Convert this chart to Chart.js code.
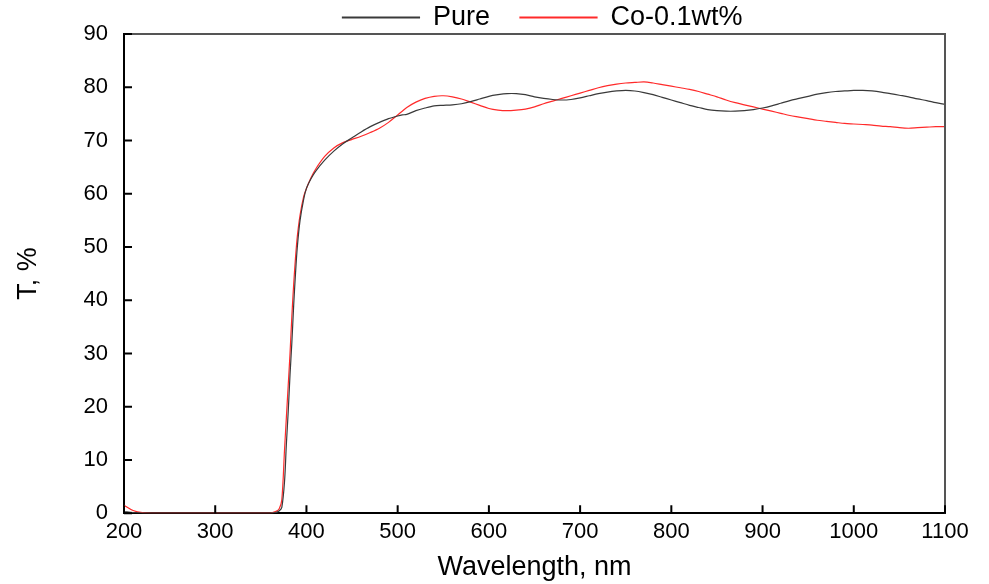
<!DOCTYPE html>
<html>
<head>
<meta charset="utf-8">
<script src="https://cdn.jsdelivr.net/npm/chart.js@4.4.0/dist/chart.umd.min.js"></script>
<style>
  html, body { margin: 0; padding: 0; background: #fff; }
  #wrap { width: 989px; height: 584px; }
</style>
</head>
<body>
<div id="wrap"><canvas id="myChart"></canvas></div>
<script>
// wavelength, nm
var wavelength = [200, 210, 220, 240, 260, 280, 300, 320, 340, 360, 366, 370, 373, 376, 378, 380, 382, 384, 386, 388, 390, 393, 397, 400, 405, 410, 420, 430, 440, 450, 460, 470, 480, 490, 500, 505, 510, 520, 530, 540, 550, 560, 570, 580, 590, 600, 610, 620, 630, 640, 650, 660, 670, 680, 690, 700, 710, 720, 730, 740, 750, 760, 770, 780, 790, 800, 810, 820, 830, 840, 850, 860, 870, 880, 890, 900, 910, 920, 930, 940, 950, 960, 970, 980, 990, 1000, 1010, 1020, 1030, 1040, 1050, 1060, 1070, 1080, 1090, 1100];

// transmittance T, %
var pure = [0.3, 0.1, 0, 0, 0, 0, 0, 0, 0, 0, 0.1, 0.4, 1.1, 6, 13, 19, 26, 32, 39, 45, 50, 55, 59, 61, 62.8, 64.2, 66.3, 68, 69.4, 70.5, 71.6, 72.6, 73.4, 74.1, 74.6, 74.8, 74.9, 75.6, 76.1, 76.5, 76.6, 76.7, 76.9, 77.3, 77.8, 78.3, 78.6, 78.8, 78.8, 78.6, 78.2, 77.9, 77.7, 77.6, 77.7, 78, 78.4, 78.8, 79.1, 79.3, 79.4, 79.3, 79, 78.6, 78.1, 77.6, 77.1, 76.6, 76.2, 75.8, 75.6, 75.5, 75.5, 75.6, 75.8, 76.1, 76.5, 77, 77.5, 77.9, 78.3, 78.7, 79, 79.2, 79.3, 79.4, 79.4, 79.3, 79.1, 78.8, 78.5, 78.2, 77.8, 77.5, 77.1, 76.8];
var cobalt = [1.5, 0.5, 0.1, 0, 0, 0, 0, 0, 0, 0, 0.3, 0.8, 2.5, 12, 18, 24, 30, 37, 43, 48, 52, 56, 59.5, 61, 63, 64.6, 67, 68.6, 69.6, 70.2, 70.8, 71.5, 72.3, 73.4, 74.8, 75.5, 76.2, 77.2, 77.9, 78.3, 78.4, 78.2, 77.8, 77.2, 76.6, 76, 75.7, 75.6, 75.7, 75.9, 76.3, 76.9, 77.4, 77.9, 78.4, 78.9, 79.4, 79.9, 80.3, 80.6, 80.8, 80.9, 81, 80.8, 80.5, 80.2, 79.9, 79.6, 79.2, 78.7, 78.2, 77.6, 77.1, 76.7, 76.3, 75.9, 75.5, 75.1, 74.7, 74.4, 74.1, 73.8, 73.6, 73.4, 73.2, 73.1, 73, 72.9, 72.7, 72.6, 72.4, 72.3, 72.4, 72.5, 72.6, 72.6];

var xTicks = [200, 300, 400, 500, 600, 700, 800, 900, 1000, 1100];
var yTicks = [0, 10, 20, 30, 40, 50, 60, 70, 80, 90];

var FONT = "'Liberation Sans', Arial, sans-serif";

function toPoints(ys) {
    return wavelength.map(function (x, i) { return { x: x, y: ys[i] }; });
}

// keep the legend row short so the plot starts right under it,
// and centre it over the plot rather than the whole canvas
var legendFix = {
    id: 'legendFix',
    beforeLayout: function (chart) {
        var lg = chart.legend;
        if (lg && !lg._patched) {
            var fit = lg.fit;
            lg.fit = function () {
                fit.call(this);
                this.height = 60;
            };
            lg._patched = true;
        }
    },
    afterLayout: function (chart) {
        var lg = chart.legend;
        if (lg) {
            lg.left += 68;
            lg.right += 68;
        }
    }
};

// frame (grey top/right) and inward tick marks
var frame = {
    id: 'frame',
    afterDraw: function (chart) {
        var ctx = chart.ctx, a = chart.chartArea;
        var sx = chart.scales.x, sy = chart.scales.y;
        ctx.save();
        ctx.strokeStyle = '#555';
        ctx.lineWidth = 2;
        ctx.beginPath();
        ctx.moveTo(a.left, a.top);
        ctx.lineTo(a.right, a.top);
        ctx.lineTo(a.right, a.bottom);
        ctx.stroke();
        ctx.strokeStyle = '#000';
        ctx.lineWidth = 2;
        ctx.beginPath();
        xTicks.forEach(function (v) {
            var px = sx.getPixelForValue(v);
            ctx.moveTo(px, a.bottom);
            ctx.lineTo(px, a.bottom - 8);
        });
        yTicks.forEach(function (v) {
            var py = sy.getPixelForValue(v);
            ctx.moveTo(a.left, py);
            ctx.lineTo(a.left + 8, py);
        });
        ctx.stroke();
        ctx.restore();
    }
};

var ctx = document.getElementById('myChart').getContext('2d');

var myChart = new Chart(ctx, {
    type: 'line',
    data: {
        datasets: [{
            label: 'Pure',
            data: toPoints(pure),
            borderColor: '#3a3a3a',
            backgroundColor: '#3a3a3a',
            borderWidth: 1.2,
            pointRadius: 0,
            tension: 0.3
        }, {
            label: 'Co-0.1wt%',
            data: toPoints(cobalt),
            borderColor: '#ff2a2a',
            backgroundColor: '#ff2a2a',
            borderWidth: 1.2,
            pointRadius: 0,
            tension: 0.3
        }]
    },
    options: {
        responsive: true,
        maintainAspectRatio: false,
        animation: false,
        layout: { padding: { left: 4, right: 44, top: -26, bottom: 0 } },
        plugins: {
            tooltip: { enabled: false },
            legend: {
                display: true,
                position: 'top',
                labels: {
                    boxWidth: 77,
                    boxHeight: 1,
                    padding: 30,
                    color: '#000',
                    font: { size: 27, family: FONT }
                }
            }
        },
        scales: {
            x: {
                type: 'linear',
                min: 200,
                max: 1100,
                grid: { display: false, drawTicks: false },
                border: { display: true, color: '#000', width: 2 },
                afterBuildTicks: function (s) { s.ticks = xTicks.map(function (v) { return { value: v }; }); },
                ticks: {
                    color: '#000',
                    padding: 6,
                    maxRotation: 0,
                    font: { size: 22, family: FONT },
                    callback: function (v) { return String(v); }
                },
                title: {
                    display: true,
                    text: 'Wavelength, nm',
                    color: '#000',
                    padding: { top: 0, bottom: 0 },
                    font: { size: 27, family: FONT }
                }
            },
            y: {
                min: 0,
                max: 90,
                grid: { display: false, drawTicks: false },
                border: { display: true, color: '#000', width: 2 },
                afterBuildTicks: function (s) { s.ticks = yTicks.map(function (v) { return { value: v }; }); },
                afterFit: function (s) { s.width = 120; },
                ticks: {
                    color: '#000',
                    padding: 16,
                    font: { size: 22, family: FONT },
                    callback: function (v) { return String(v); }
                },
                title: {
                    display: true,
                    text: 'T, %',
                    color: '#000',
                    padding: { top: 8, bottom: 0 },
                    font: { size: 27, family: FONT }
                }
            }
        }
    },
    plugins: [legendFix, frame]
});
</script>
</body>
</html>
